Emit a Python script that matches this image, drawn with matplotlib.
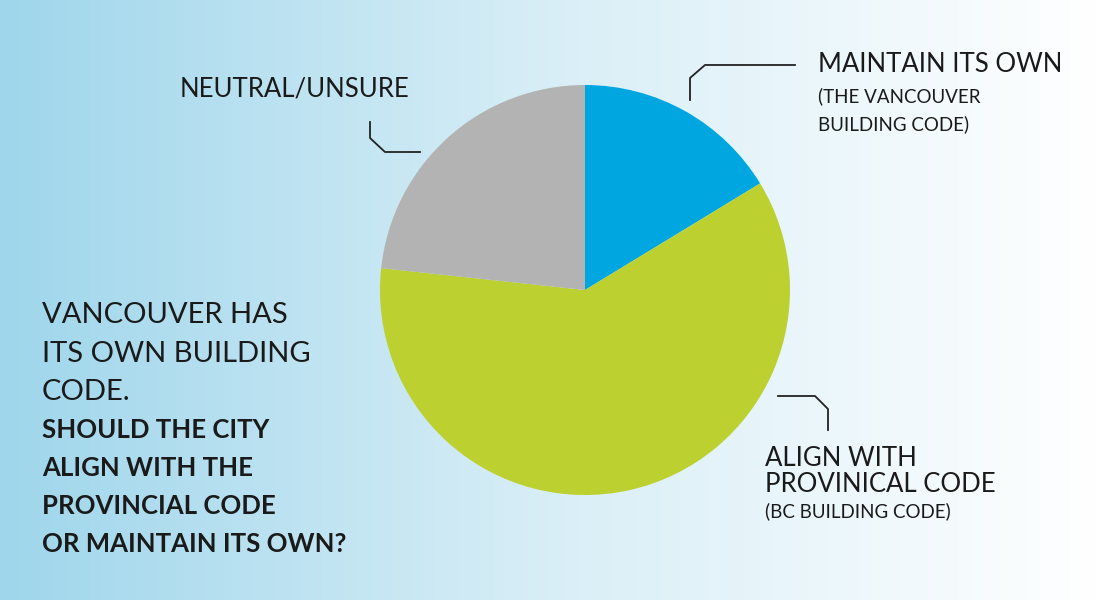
import numpy as np
import matplotlib.pyplot as plt
from matplotlib.colors import LinearSegmentedColormap

labels = ["Maintain its own", "Align with provincial code", "Neutral/unsure"]
shares = [16.3, 60.4, 23.3]
colors = ["#00a6e0", "#bcd030", "#b3b3b3"]

intro_lines = ["VANCOUVER HAS", "ITS OWN BUILDING", "CODE."]
question_lines = ["SHOULD THE CITY", "ALIGN WITH THE", "PROVINCIAL CODE", "OR MAINTAIN ITS OWN?"]

fig = plt.figure(figsize=(11, 6), dpi=100)

# background gradient
bg = fig.add_axes([0, 0, 1, 1])
cmap = LinearSegmentedColormap.from_list("bg", ["#9fd6eb", "#d8eef7", "#ffffff"])
bg.imshow(np.linspace(0, 1, 256)[None, :], aspect="auto", cmap=cmap, extent=[0, 1100, 600, 0])
bg.set_xlim(0, 1100)
bg.set_ylim(600, 0)
bg.axis("off")

# pie
ax = fig.add_axes([(585 - 205) / 1100, (600 - 290 - 205) / 600, 410 / 1100, 410 / 600])
ax.pie(shares, colors=colors, startangle=90, counterclock=False,
       wedgeprops=dict(linewidth=0))
ax.set_xlim(-1, 1)
ax.set_ylim(-1, 1)
ax.set_aspect("equal")
ax.axis("off")

txt = dict(family=["Lato", "DejaVu Sans"], color="#1a1a1a")

# connector lines
bg.plot([690, 690, 705, 795], [100, 78, 65, 65], color="#222", lw=1.3)
bg.plot([370, 370, 385, 420], [122, 138, 152, 152], color="#222", lw=1.3)
bg.plot([778, 815, 828, 828], [396, 396, 409, 430], color="#222", lw=1.3)

bg.text(818, 65, "MAINTAIN ITS OWN", fontsize=18.5, va="center", **txt)
bg.text(818, 96, "THE VANCOUVER", fontsize=13.5, va="center", alpha=0, **txt)
bg.text(818, 96, "(THE VANCOUVER", fontsize=13.5, va="center", **txt)
bg.text(818, 124, "BUILDING CODE)", fontsize=13.5, va="center", **txt)
bg.text(180, 89, "NEUTRAL/UNSURE", fontsize=18.5, va="center", **txt)
bg.text(765, 458, "ALIGN WITH", fontsize=18.5, va="center", **txt)
bg.text(765, 484, "PROVINICAL CODE", fontsize=18.5, va="center", **txt)
bg.text(765, 511, "(BC BUILDING CODE)", fontsize=13.5, va="center", **txt)

for i, line in enumerate(intro_lines):
    bg.text(42, 315 + 38.5 * i, line, fontsize=21, va="center", ha="left", **txt)
for i, line in enumerate(question_lines):
    bg.text(42, 430 + 38 * i, line, fontsize=18.5, fontweight="bold",
            va="center", ha="left", **txt)

fig.savefig("out.png", dpi=100)
